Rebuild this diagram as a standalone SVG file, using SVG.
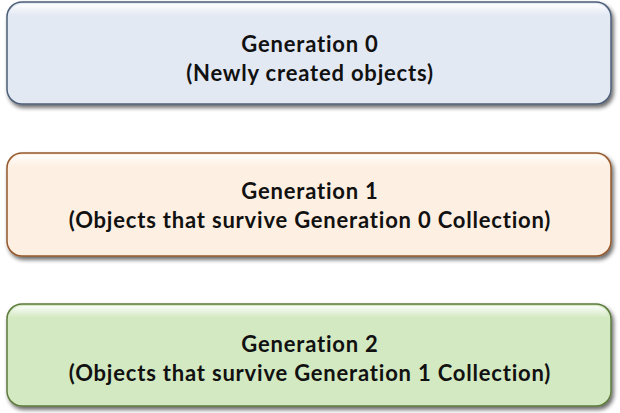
<svg xmlns="http://www.w3.org/2000/svg" width="620" height="413" viewBox="0 0 620 413">
  <defs>
    <filter id="shadow" x="-5%" y="-10%" width="112%" height="130%">
      <feGaussianBlur in="SourceAlpha" stdDeviation="2"/>
      <feOffset dx="2" dy="3" result="b"/>
      <feComponentTransfer><feFuncA type="linear" slope="0.6"/></feComponentTransfer>
      <feMerge><feMergeNode/><feMergeNode in="SourceGraphic"/></feMerge>
    </filter>
    <linearGradient id="gloss" x1="0" y1="0" x2="0" y2="1">
      <stop offset="0" stop-color="#ffffff" stop-opacity="0.9"/>
      <stop offset="0.12" stop-color="#ffffff" stop-opacity="0"/>
      <stop offset="1" stop-color="#ffffff" stop-opacity="0"/>
    </linearGradient>
  </defs>
  <style>
    .box { stroke-width: 1.5; filter: url(#shadow); }
    .gloss { fill: url(#gloss); stroke: none; }
    .g0 { fill: #e3e9f3; stroke: #4d5f78; }
    .g1 { fill: #fdefe1; stroke: #94592d; }
    .g2 { fill: #d3e9c1; stroke: #5d7a3d; }
    text { font-family: Lato, "Liberation Sans", sans-serif; font-weight: bold; font-size: 22px; letter-spacing: 0.8px; font-variant-ligatures: none; fill: #111; text-anchor: middle; }
  </style>
  <rect width="620" height="413" fill="#ffffff"/>
  <g id="gen0">
    <rect class="box g0" x="7" y="2" width="604" height="102" rx="15"/>
    <rect class="gloss" x="9" y="4" width="600" height="98" rx="13"/>
    <text x="310" y="52">Generation 0</text>
    <text x="310" y="81">(Newly created objects)</text>
  </g>
  <g id="gen1">
    <rect class="box g1" x="7" y="153" width="604" height="103" rx="15"/>
    <rect class="gloss" x="9" y="155" width="600" height="99" rx="13"/>
    <text x="310" y="199">Generation 1</text>
    <text x="310" y="228">(Objects that survive Generation 0 Collection)</text>
  </g>
  <g id="gen2">
    <rect class="box g2" x="7" y="304" width="604" height="102" rx="15"/>
    <rect class="gloss" x="9" y="306" width="600" height="98" rx="13"/>
    <text x="310" y="352">Generation 2</text>
    <text x="310" y="381">(Objects that survive Generation 1 Collection)</text>
  </g>
</svg>
